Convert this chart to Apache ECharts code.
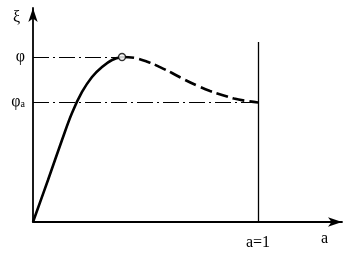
<!DOCTYPE html>
<html><head><meta charset="utf-8">
<script src="https://cdn.jsdelivr.net/npm/echarts@6/dist/echarts.min.js"></script>
<style>html,body{margin:0;padding:0;background:#fff}#c{width:349px;height:259px}</style>
</head><body><div id="c"></div>
<script>
// rising (solid) part of the curve: [a, ξ]
var risingCurve = [[0,0],[0.0667,0.2545],[0.1289,0.497],[0.1733,0.661],[0.2178,0.788],[0.2622,0.879],[0.3067,0.939],[0.3511,0.982],[0.3956,1.0]];
// falling (dashed) part of the curve
var fallingCurve = [[0.3956,1.0],[0.4533,0.994],[0.5111,0.970],[0.5644,0.939],[0.6178,0.903],[0.6756,0.861],[0.7333,0.824],[0.7867,0.794],[0.84,0.770],[0.8933,0.748],[0.9467,0.734],[1.0,0.724]];
var peak = [0.3956, 1.0];
var phiValue = 1.0, phiAValue = 0.724;
var aOne = 1.0, aOneTop = 1.091;
var xMax = 1.373, yMax = 1.297;

var serif = '"Liberation Serif","DejaVu Serif",serif';
var dashDot = [16,4,2,4];
var chart = echarts.init(document.getElementById('c'));
chart.setOption({
  animation:false,
  grid:{left:33,top:8,right:7,bottom:37},
  xAxis:{type:'value',min:0,max:xMax,splitLine:{show:false},axisTick:{show:false},axisLabel:{show:false},
    axisLine:{onZero:false,lineStyle:{color:'#000',width:1.8},symbol:['none','arrow'],symbolSize:[7,14]}},
  yAxis:{type:'value',min:0,max:yMax,splitLine:{show:false},axisTick:{show:false},axisLabel:{show:false},
    axisLine:{onZero:false,lineStyle:{color:'#000',width:1.8},symbol:['none','arrow'],symbolSize:[7,14]}},
  series:[
    {type:'line',data:risingCurve,smooth:0.4,showSymbol:false,lineStyle:{color:'#000',width:2.6},z:3,
      markLine:{silent:true,symbol:'none',
        label:{position:'start',color:'#000',fontFamily:serif,fontSize:16,distance:8},
        data:[
          [{coord:[0,phiValue],name:'φ',label:{formatter:'φ',padding:[0,0,9,0]},lineStyle:{type:dashDot,color:'#000',width:1.2}},{coord:[peak[0],phiValue]}],
          [{coord:[0,phiAValue],name:'φa',label:{formatter:'φ{s|a}',padding:[0,0,2,0],rich:{s:{fontSize:10,fontFamily:serif,color:'#000',verticalAlign:'bottom',padding:[6,0,0,0]}}},lineStyle:{type:dashDot,color:'#000',width:1.2}},{coord:[aOne,phiAValue]}],
          [{coord:[aOne,0],name:'a=1',label:{formatter:'a=1',distance:13},lineStyle:{type:'solid',color:'#000',width:1.3}},{coord:[aOne,aOneTop]}]
        ]}},
    {type:'line',data:fallingCurve,smooth:0.4,showSymbol:false,lineStyle:{color:'#000',width:2.6,type:[12,5]},z:3},
    {type:'scatter',data:[peak],symbol:'circle',symbolSize:7,itemStyle:{color:'#fff',borderColor:'#000',borderWidth:1.3},z:5}
  ]
});
var yTop = chart.convertToPixel({gridIndex:0},[0,yMax]);
var xEnd = chart.convertToPixel({gridIndex:0},[xMax,0]);
chart.setOption({graphic:[
  {type:'text',left:yTop[0]-20,top:yTop[1]+2,style:{text:'ξ',font:'16px '+serif,fill:'#000'}},
  {type:'text',left:xEnd[0]-21,top:xEnd[1]+9,style:{text:'a',font:'16px '+serif,fill:'#000'}}
]});
</script></body></html>
